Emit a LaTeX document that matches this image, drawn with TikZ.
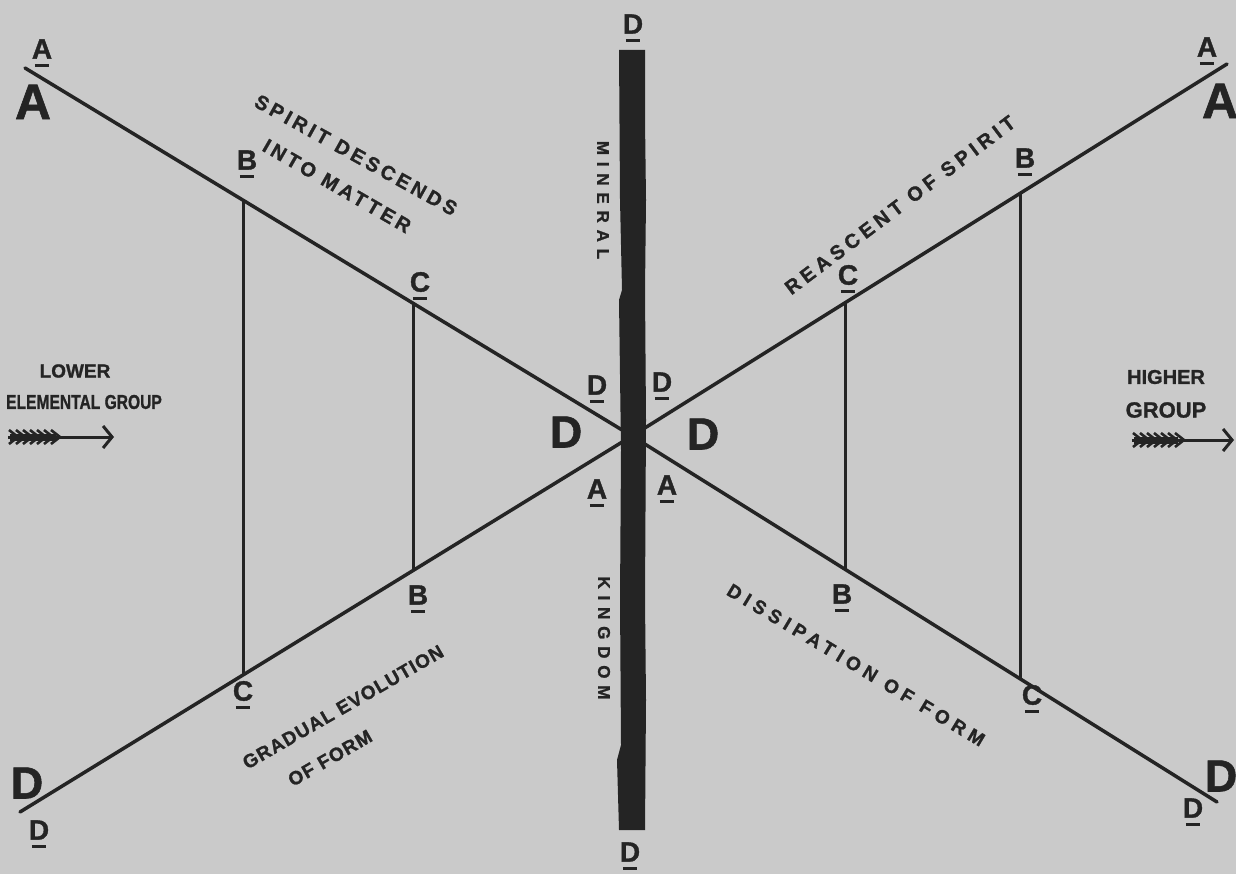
\documentclass[tikz,border=0pt]{standalone}
\usepackage{fontspec}
\setmainfont[BoldFeatures={FakeBold=1.2}]{Liberation Sans}
\usetikzlibrary{arrows.meta,calc}
\definecolor{bg}{RGB}{202,202,202}
\definecolor{ink}{RGB}{36,36,36}
\newcommand\ulx[1]{\setbox0=\hbox{#1}\vtop{\offinterlineskip\hbox{\copy0}\kern5pt\hbox to \wd0{\hfil\vrule width 0.7\wd0 height 3pt depth 0pt\hfil}}}
\begin{document}
\begin{tikzpicture}[x=1pt,y=-1pt,
  every node/.style={text=ink, inner sep=0pt},
  big/.style={font=\fontsize{50}{50}\selectfont\bfseries},
  mid/.style={font=\fontsize{45}{45}\selectfont\bfseries},
  sm/.style={font=\fontsize{28}{28}\selectfont\bfseries},
  lab/.style={font=\fontsize{20}{20}\selectfont\bfseries\addfontfeature{LetterSpace=18}},
  vlab/.style={font=\fontsize{17}{17}\selectfont\bfseries\addfontfeature{LetterSpace=40}, rotate=-90},
  side/.style={font=\fontsize{19}{19}\selectfont\bfseries},
  ln/.style={draw=ink, line width=3.5pt, line cap=round},
  vl/.style={draw=ink, line width=3pt},
  fl/.style={draw=ink, line width=2.6pt}]
\fill[bg] (0,0) rectangle (1236,874);
\useasboundingbox (0,0) rectangle (1236,874);
% end points
\coordinate (TL) at (25,68);
\coordinate (BL) at (20,812);
\coordinate (TR) at (1227,64);
\coordinate (BR) at (1217,802);
\coordinate (X) at (632,436);
\coordinate (v1t) at (243,200.2);
\coordinate (v1b) at (243,675);
\coordinate (v2t) at (413,303.3);
\coordinate (v2b) at (413,570.5);
\coordinate (v3t) at (845,302.8);
\coordinate (v3b) at (845,569.3);
\coordinate (v4t) at (1020,193.4);
\coordinate (v4b) at (1020,678.7);
% diagonals
\draw[ln] (TL) -- (X);
\draw[ln] (BL) -- (X);
\draw[ln] (TR) -- (X);
\draw[ln] (BR) -- (X);
% verticals
\draw[vl] (v1t) -- (v1b);
\draw[vl] (v2t) -- (v2b);
\draw[vl] (v3t) -- (v3b);
\draw[vl] (v4t) -- (v4b);
% bar
\fill[ink] (619,50) -- (645,50) -- (645,120) -- (646,200) -- (645,290) -- (646,420)
  -- (645,600) -- (646,700) -- (645,830) -- (619,830) -- (617,760) -- (621,745)
  -- (620,600) -- (621,450) -- (619,300) -- (622,290) -- (620,200) -- cycle;
% arrows
\coordinate (la0) at (8,437);
\coordinate (la1) at (114,437);
\draw[ink, line width=3pt, -{Straight Barb[length=9pt,width=22pt]}] (la0) -- (la1);
\draw[ink, line width=7pt] (10,437) -- (56,437);
\foreach \x in {18,25,...,60} \draw[fl] (\x,437) -- ++(-9,-7) (\x,437) -- ++(-9,7);
\coordinate (ra0) at (1132,440);
\coordinate (ra1) at (1234,440);
\draw[ink, line width=3pt, -{Straight Barb[length=9pt,width=22pt]}] (ra0) -- (ra1);
\draw[ink, line width=7pt] (1134,440) -- (1178,440);
\foreach \x in {1142,1149,...,1184} \draw[fl] (\x,440) -- ++(-9,-7) (\x,440) -- ++(-9,7);
% big letters
\node[big] (bA1) at (33,102) {A};
\node[big] (bA2) at (1220,101) {A};
\node[mid] (bD1) at (566,432) {D};
\node[mid] (bD2) at (703,434) {D};
\node[mid] (bD3) at (27,783) {D};
\node[mid] (bD4) at (1221,776) {D};
% underlined letters
\node[sm] (uA1) at (42,53) {\ulx{A}};
\node[sm] (uA2) at (1207,51) {\ulx{A}};
\node[sm] (uDt) at (633,28) {\ulx{D}};
\node[sm] (uDb) at (630,856) {\ulx{D}};
\node[sm] (uB1) at (247,164) {\ulx{B}};
\node[sm] (uC1) at (420,286) {\ulx{C}};
\node[sm] (uD1) at (597,389) {\ulx{D}};
\node[sm] (uD2) at (662,386) {\ulx{D}};
\node[sm] (uA3) at (597,493) {\ulx{A}};
\node[sm] (uA4) at (667,489) {\ulx{A}};
\node[sm] (uB2) at (418,599) {\ulx{B}};
\node[sm] (uC2) at (243,695) {\ulx{C}};
\node[sm] (uD3) at (39,834) {\ulx{D}};
\node[sm] (uB3) at (1025,162) {\ulx{B}};
\node[sm] (uC3) at (848,279) {\ulx{C}};
\node[sm] (uB4) at (842,598) {\ulx{B}};
\node[sm] (uC4) at (1032,699) {\ulx{C}};
\node[sm] (uD4) at (1193,812) {\ulx{D}};
% vertical labels
\node[vlab] (min) at (603,200) {MINERAL};
\node[vlab] (king) at (604,638) {KINGDOM};
% side labels
\node[side] (low) at (75,371) {LOWER};
\node[side, font=\fontsize{20}{20}\selectfont\bfseries, xscale=0.78, transform shape] (elem) at (84,402) {ELEMENTAL GROUP};
\node[side, font=\fontsize{20}{20}\selectfont\bfseries] (high) at (1166,377) {HIGHER};
\node[side, font=\fontsize{22}{22}\selectfont\bfseries] (grp) at (1166,410) {GROUP};
% slanted labels
\node[lab, rotate=-29] (sd) at (356,155) {SPIRIT DESCENDS};
\node[lab, rotate=-30] (im) at (337,186) {INTO MATTER};
\node[lab, rotate=37, font=\fontsize{20}{20}\selectfont\bfseries\addfontfeature{LetterSpace=23}] (rs) at (900,205) {REASCENT OF SPIRIT};
\node[lab, rotate=-31, font=\fontsize{19}{19}\selectfont\bfseries\addfontfeature{LetterSpace=28}] (df) at (856,665) {DISSIPATION OF FORM};
\node[lab, rotate=30, font=\fontsize{19}{19}\selectfont\bfseries\addfontfeature{LetterSpace=6}] (ge) at (343,707) {GRADUAL EVOLUTION};
\node[lab, rotate=30, font=\fontsize{19}{19}\selectfont\bfseries\addfontfeature{LetterSpace=6}] (of) at (330,758) {OF FORM};
\end{tikzpicture}
\end{document}
